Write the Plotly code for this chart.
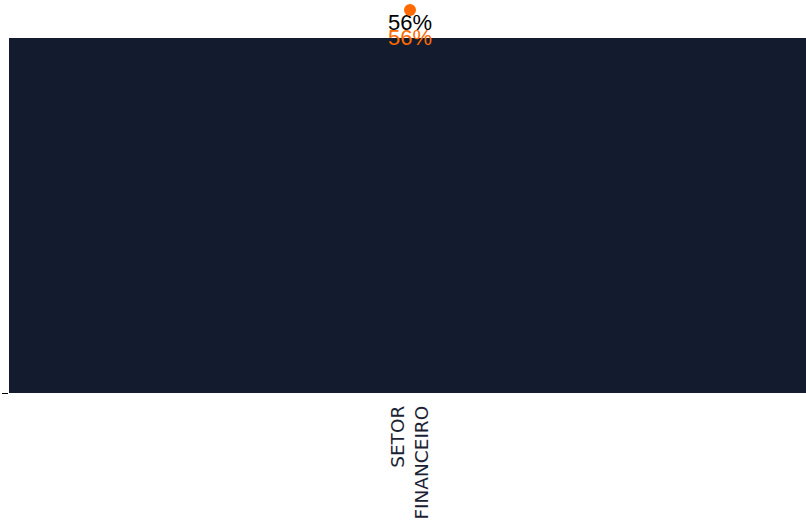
import plotly.graph_objects as go

categories = ["SETOR<br>FINANCEIRO"]
bar_values = [56]
marker_values = [56]
bar_labels = ["56%"]
marker_labels = ["56%"]

NAVY = "#121c2e"
ORANGE = "#ff6a00"

fig = go.Figure()
fig.add_trace(go.Bar(
    x=categories, y=bar_values, text=bar_labels, textposition="outside",
    marker=dict(color=NAVY, line=dict(width=0)), width=1,
    textfont=dict(family="Arial", size=22, color="#000000"),
    cliponaxis=False, showlegend=False,
))
# orange dot
fig.add_trace(go.Scatter(
    x=categories, y=marker_values, mode="markers",
    marker=dict(color=ORANGE, size=12),
    cliponaxis=False, showlegend=False, yaxis="y2",
))
# orange value label
fig.add_trace(go.Scatter(
    x=categories, y=marker_values, text=marker_labels, mode="text",
    textposition="middle center",
    textfont=dict(family="Arial", size=22, color=ORANGE),
    cliponaxis=False, showlegend=False, yaxis="y3",
))
fig.update_layout(
    width=806, height=520,
    margin=dict(l=9, r=0, t=0, b=127),
    paper_bgcolor="white", plot_bgcolor="white",
    bargap=0,
    xaxis=dict(range=[-0.5, 0.4938], tickangle=-90, showgrid=False, zeroline=False,
               ticklabelstandoff=8,
               tickfont=dict(family="DejaVu Sans", size=18.5, color="#1a2233"), automargin=False),
    yaxis=dict(range=[0, 61.99], showgrid=False, zeroline=False, tickvals=[0], ticktext=[""],
               ticks="outside", ticklen=6, tickcolor="#000000", showticklabels=True, automargin=False),
    yaxis2=dict(range=[0, 57.46], overlaying="y", showgrid=False, zeroline=False,
                showticklabels=False, ticks=""),
    yaxis3=dict(range=[0, 62.17], overlaying="y", showgrid=False, zeroline=False,
                showticklabels=False, ticks=""),
)
fig.write_html("out.html", config={"displayModeBar": False},
               post_script="document.body.style.margin='0px';")
